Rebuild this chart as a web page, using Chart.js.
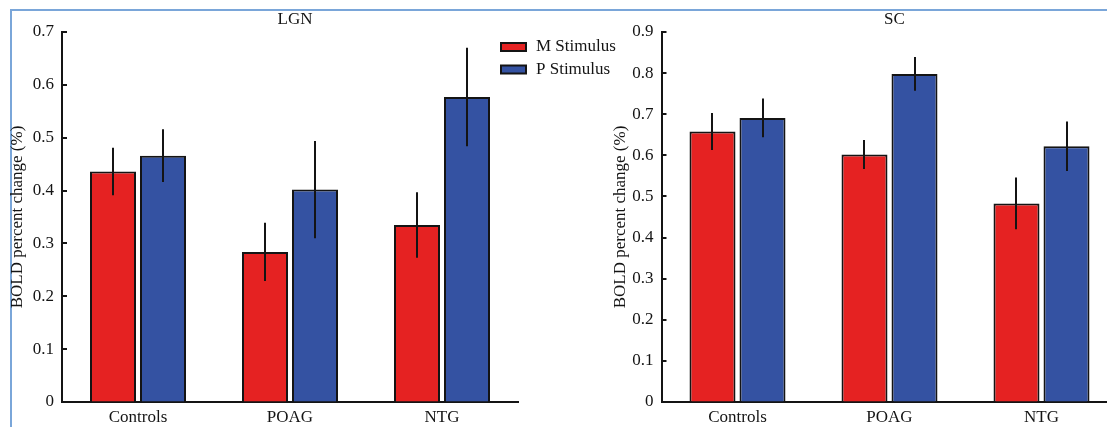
<!DOCTYPE html>
<html><head><meta charset="utf-8">
<script src="https://cdn.jsdelivr.net/npm/chart.js@4.4.1/dist/chart.umd.min.js"></script>
<style>
html,body{margin:0;padding:0;background:#fff;overflow:hidden;width:1107px;height:427px;}
#wrap{position:relative;width:1107px;height:427px;overflow:hidden;background:#fff;}
#frame{position:absolute;left:10px;top:9px;width:1200px;height:500px;border-top:2px solid #7aa6d9;border-left:2px solid #7aa6d9;}
#c1{position:absolute;left:0;top:0;width:640px;height:427px;}
#c2{position:absolute;left:600px;top:0;width:520px;height:427px;}
</style></head><body>
<div id="wrap"><div id="frame"></div>
<canvas id="c1" width="640" height="427"></canvas>
<canvas id="c2" width="520" height="427"></canvas></div>
<script>
const categories = ['Controls', 'POAG', 'NTG'];
const seriesNames = ['M Stimulus', 'P Stimulus'];
const panelTitles = ['LGN', 'SC'];
const yAxisTitle = 'BOLD percent change (%)';

const lgnM = [0.436, 0.284, 0.335];
const lgnMErr = [0.045, 0.055, 0.062];
const lgnP = [0.466, 0.402, 0.577];
const lgnPErr = [0.050, 0.092, 0.093];

const scM = [0.658, 0.602, 0.483];
const scMErr = [0.045, 0.035, 0.063];
const scP = [0.691, 0.798, 0.622];
const scPErr = [0.047, 0.041, 0.060];

const lgnTicks = [0, 0.1, 0.2, 0.3, 0.4, 0.5, 0.6, 0.7];
const lgnTickLabels = ['0', '0.1', '0.2', '0.3', '0.4', '0.5', '0.6', '0.7'];
const scTicks = [0, 0.1, 0.2, 0.3, 0.4, 0.5, 0.6, 0.7, 0.8, 0.9];
const scTickLabels = ['0', '0.1', '0.2', '0.3', '0.4', '0.5', '0.6', '0.7', '0.8', '0.9'];

const RED = '#e52222';
const BLUE = '#3452a2';
const INK = '#141414';
const FONT = 'Liberation Serif, Times New Roman, serif';

const errorBars = {
  id: 'errorBars',
  afterDatasetsDraw(chart) {
    const ctx = chart.ctx, y = chart.scales.y;
    ctx.save();
    ctx.strokeStyle = INK; ctx.lineWidth = 2;
    chart.data.datasets.forEach((ds, i) => {
      const meta = chart.getDatasetMeta(i);
      meta.data.forEach((bar, j) => {
        const v = ds.data[j], e = ds.errors[j];
        const x = Math.round(bar.x);
        ctx.beginPath();
        ctx.moveTo(x, y.getPixelForValue(v + e));
        ctx.lineTo(x, y.getPixelForValue(v - e));
        ctx.stroke();
      });
    });
    ctx.restore();
  }
};

const innerTicks = {
  id: 'innerTicks',
  afterDraw(chart) {
    const ctx = chart.ctx, y = chart.scales.y, a = chart.chartArea;
    ctx.save();
    ctx.strokeStyle = INK; ctx.lineWidth = 2;
    y.ticks.forEach(t => {
      const py = Math.round(y.getPixelForValue(t.value));
      ctx.beginPath();
      ctx.moveTo(a.left, py);
      ctx.lineTo(a.left + 5, py);
      ctx.stroke();
    });
    ctx.restore();
  }
};

const panelTitle = {
  id: 'panelTitle',
  afterDraw(chart, args, opts) {
    const ctx = chart.ctx, a = chart.chartArea;
    ctx.save();
    ctx.font = '17px ' + FONT;
    ctx.fillStyle = INK;
    ctx.textAlign = 'center';
    ctx.textBaseline = 'middle';
    ctx.fillText(opts.text, (a.left + a.right) / 2 + 5, 20);
    ctx.restore();
  }
};

const boxLegend = {
  id: 'boxLegend',
  afterDraw(chart, args, opts) {
    if (!opts.show) return;
    const ctx = chart.ctx, a = chart.chartArea;
    const x0 = a.right - 18, y0 = a.top + 10;
    ctx.save();
    ctx.font = '17px ' + FONT;
    ctx.textBaseline = 'middle';
    ctx.textAlign = 'left';
    chart.data.datasets.forEach((ds, i) => {
      const by = y0 + i * 22.5;
      ctx.fillStyle = INK;
      ctx.fillRect(x0, by, 27, 10);
      ctx.fillStyle = ds.backgroundColor;
      ctx.fillRect(x0 + 2, by + 2, 23, 6);
      ctx.fillStyle = INK;
      ctx.fillText(ds.label, x0 + 36, by + 5);
    });
    ctx.restore();
  }
};

function makeChart(canvasId, mData, mErr, pData, pErr, ticks, tickLabels, title, showLegend, axisW, padRight, titlePad) {
  return new Chart(document.getElementById(canvasId), {
    type: 'bar',
    data: {
      labels: categories,
      datasets: [
        { label: seriesNames[0], data: mData, errors: mErr, backgroundColor: RED, borderColor: INK, borderWidth: 2 },
        { label: seriesNames[1], data: pData, errors: pErr, backgroundColor: BLUE, borderColor: INK, borderWidth: 2 }
      ]
    },
    options: {
      responsive: false,
      animation: false,
      events: [],
      categoryPercentage: 0.658,
      barPercentage: 0.92,
      layout: { padding: { left: 0, top: 32, right: padRight, bottom: 0 } },
      plugins: {
        legend: { display: false },
        tooltip: { enabled: false },
        title: { display: false },
        panelTitle: { text: title },
        boxLegend: { show: showLegend }
      },
      scales: {
        x: {
          grid: { display: false, drawTicks: false },
          border: { display: true, color: INK, width: 2 },
          ticks: { color: INK, font: { family: FONT, size: 17 }, padding: 5, maxRotation: 0 },
          afterFit: s => { s.height = 25; }
        },
        y: {
          min: 0,
          max: ticks[ticks.length - 1],
          afterBuildTicks: s => { s.ticks = ticks.map(v => ({ value: v })); },
          grid: { display: true, drawOnChartArea: false, drawTicks: false, color: 'rgba(0,0,0,0)' },
          border: { display: true, color: INK, width: 2 },
          ticks: {
            color: INK, font: { family: FONT, size: 17 }, padding: 8,
            callback: (v, i) => tickLabels[i]
          },
          title: {
            display: true, text: yAxisTitle, color: INK,
            font: { family: FONT, size: 17 }, padding: { top: titlePad, bottom: 0 }
          },
          afterFit: s => { s.width = axisW; }
        }
      }
    },
    plugins: [errorBars, innerTicks, panelTitle, boxLegend]
  });
}

makeChart('c1', lgnM, lgnMErr, lgnP, lgnPErr, lgnTicks, lgnTickLabels, panelTitles[0], true, 62, 122, 7);
makeChart('c2', scM, scMErr, scP, scPErr, scTicks, scTickLabels, panelTitles[1], false, 61.5, 2.5, 10);
</script>
</body></html>
